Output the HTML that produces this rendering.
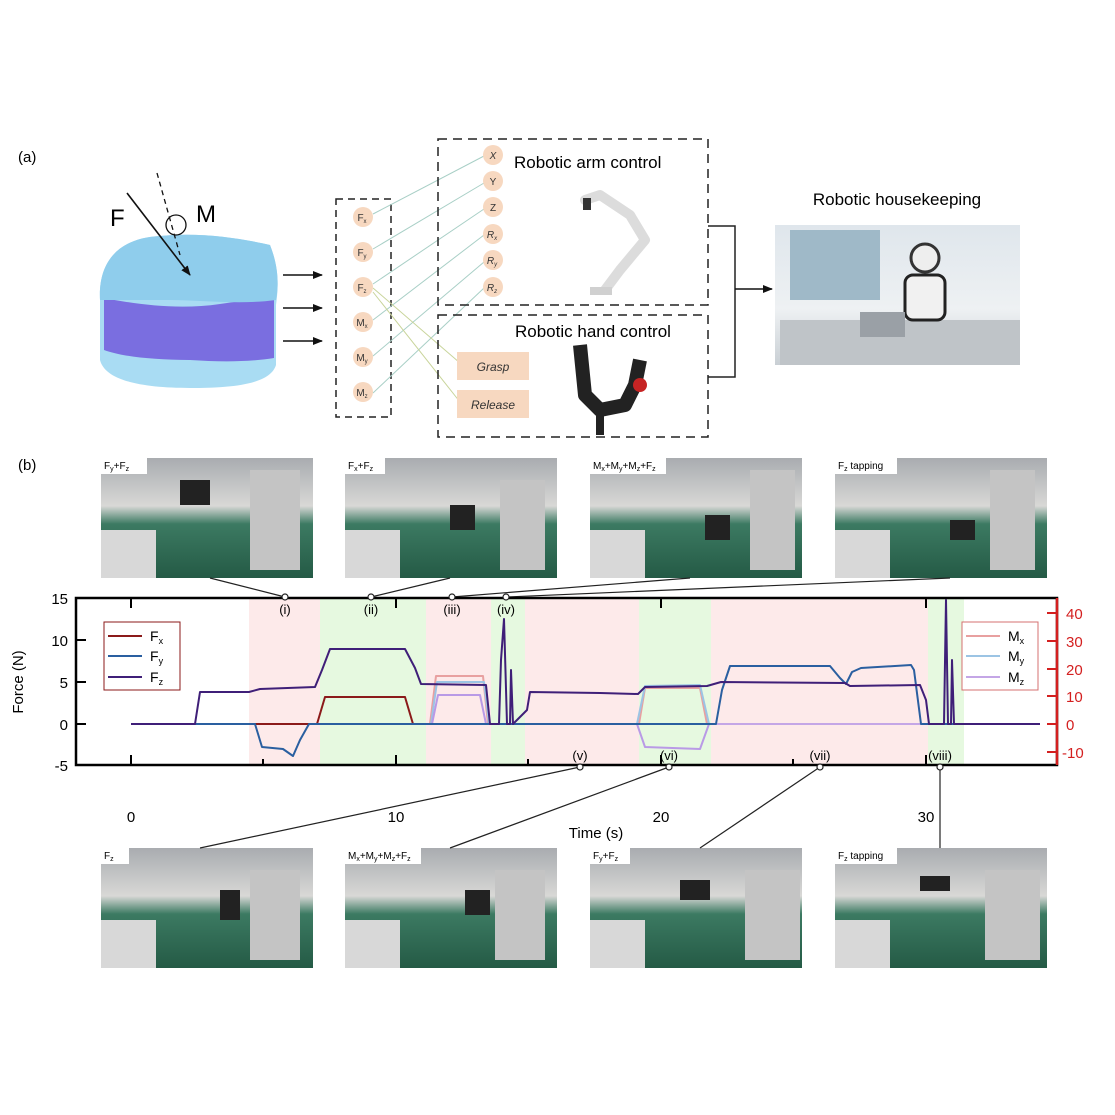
<!DOCTYPE html>
<html><head><meta charset="utf-8"><style>
html,body{margin:0;padding:0;background:#fff}
svg{display:block}
text{font-family:"Liberation Sans",Arial,sans-serif}
</style></head><body>
<svg width="1115" height="1115" viewBox="0 0 1115 1115" xmlns="http://www.w3.org/2000/svg">
<defs>
<marker id="ah" markerWidth="10" markerHeight="10" refX="9" refY="5" orient="auto" markerUnits="userSpaceOnUse"><path d="M0,1 L10,5 L0,9 z" fill="#111"/></marker>
<linearGradient id="room" x1="0" y1="0" x2="0" y2="1"><stop offset="0" stop-color="#a9acb0"/><stop offset="0.4" stop-color="#d8d8d6"/><stop offset="0.55" stop-color="#3c7a62"/><stop offset="1" stop-color="#245a45"/></linearGradient>
<linearGradient id="office" x1="0" y1="0" x2="0" y2="1"><stop offset="0" stop-color="#dfe6ec"/><stop offset="0.6" stop-color="#eef1f3"/><stop offset="1" stop-color="#c9cfd4"/></linearGradient>
</defs>
<rect width="1115" height="1115" fill="#fff"/>
<text x="18" y="162" font-size="15">(a)</text>
<text x="18" y="470" font-size="15">(b)</text>

<!-- pad -->
<path d="M100,300 C98,260 120,238 160,236 C200,232 240,238 270,245 C280,270 278,290 276,305 L276,365 C270,385 230,388 190,388 C140,388 105,380 100,360 Z" fill="#a9dcf3"/>
<path d="M104,298 C140,305 180,310 220,304 C250,300 268,296 274,296 L274,358 C250,362 220,362 190,360 C150,360 120,356 104,350 Z" fill="#7a6ee0"/>
<path d="M100,300 C98,260 120,238 160,236 C200,232 240,238 270,245 C280,270 278,290 276,300 C240,305 200,300 170,300 C130,300 110,300 100,300 Z" fill="#8fcdec"/>
<line x1="127" y1="193" x2="190" y2="275" stroke="#111" stroke-width="1.6" marker-end="url(#ah)"/>
<line x1="157" y1="173" x2="180" y2="255" stroke="#111" stroke-width="1.3" stroke-dasharray="5,4"/>
<ellipse cx="176" cy="225" rx="10" ry="10" fill="none" stroke="#111" stroke-width="1.3"/>
<text x="110" y="226" font-size="24">F</text>
<text x="196" y="222" font-size="24">M</text>
<line x1="283" y1="275" x2="322" y2="275" stroke="#111" stroke-width="1.6" marker-end="url(#ah)"/>
<line x1="283" y1="308" x2="322" y2="308" stroke="#111" stroke-width="1.6" marker-end="url(#ah)"/>
<line x1="283" y1="341" x2="322" y2="341" stroke="#111" stroke-width="1.6" marker-end="url(#ah)"/>

<!-- input box -->
<rect x="336" y="199" width="55" height="218" fill="none" stroke="#222" stroke-width="1.5" stroke-dasharray="7,5"/>
<g stroke="#a8cfc6" stroke-width="1">
<line x1="373" y1="214" x2="484" y2="156"/>
<line x1="373" y1="249" x2="484" y2="183"/>
<line x1="373" y1="284" x2="484" y2="209"/>
<line x1="373" y1="320" x2="484" y2="235"/>
<line x1="373" y1="356" x2="484" y2="262"/>
<line x1="373" y1="393" x2="484" y2="288"/>
</g>
<g stroke="#c8d49a" stroke-width="1"><line x1="373" y1="288" x2="460" y2="363"/><line x1="373" y1="292" x2="460" y2="402"/></g>
<g fill="#f7d8c0">
<circle cx="363" cy="217" r="10"/><circle cx="363" cy="252" r="10"/><circle cx="363" cy="287" r="10"/>
<circle cx="363" cy="322" r="10"/><circle cx="363" cy="357" r="10"/><circle cx="363" cy="392" r="10"/>
<circle cx="493" cy="155" r="10"/><circle cx="493" cy="181" r="10"/><circle cx="493" cy="207" r="10"/>
<circle cx="493" cy="234" r="10"/><circle cx="493" cy="260" r="10"/><circle cx="493" cy="287" r="10"/>
</g>
<g font-size="10" text-anchor="middle" fill="#333">
<text x="362" y="221">F<tspan font-size="6" dy="2">x</tspan></text>
<text x="362" y="256">F<tspan font-size="6" dy="2">y</tspan></text>
<text x="362" y="291">F<tspan font-size="6" dy="2">z</tspan></text>
<text x="362" y="326">M<tspan font-size="6" dy="2">x</tspan></text>
<text x="362" y="361">M<tspan font-size="6" dy="2">y</tspan></text>
<text x="362" y="396">M<tspan font-size="6" dy="2">z</tspan></text>
<text x="493" y="159" font-style="italic">X</text>
<text x="493" y="185">Y</text>
<text x="493" y="211">Z</text>
<text x="492" y="238" font-style="italic">R<tspan font-size="6" dy="2">x</tspan></text>
<text x="492" y="264" font-style="italic">R<tspan font-size="6" dy="2">y</tspan></text>
<text x="492" y="291" font-style="italic">R<tspan font-size="6" dy="2">z</tspan></text>
</g>
<rect x="438" y="139" width="270" height="166" fill="none" stroke="#222" stroke-width="1.5" stroke-dasharray="9,6"/>
<rect x="438" y="315" width="270" height="122" fill="none" stroke="#222" stroke-width="1.5" stroke-dasharray="9,6"/>
<text x="514" y="168" font-size="17">Robotic arm control</text>
<text x="515" y="337" font-size="17">Robotic hand control</text>
<rect x="457" y="352" width="72" height="28" fill="#f7d8c0"/>
<rect x="457" y="390" width="72" height="28" fill="#f7d8c0"/>
<text x="493" y="371" font-size="12" font-style="italic" text-anchor="middle" fill="#333">Grasp</text>
<text x="493" y="409" font-size="12" font-style="italic" text-anchor="middle" fill="#333">Release</text>
<!-- arm -->
<path d="M585,200 L600,195 L630,215 L645,240 L620,270 L605,290" fill="none" stroke="#dcdcdc" stroke-width="10" stroke-linecap="round" stroke-linejoin="round"/>
<rect x="583" y="198" width="8" height="12" fill="#333"/>
<rect x="590" y="287" width="22" height="8" fill="#d0d0d0"/>
<!-- hand -->
<path d="M580,345 L585,395 L600,410 L625,405 L635,385 L640,360" fill="none" stroke="#222" stroke-width="14" stroke-linejoin="round"/>
<rect x="596" y="405" width="8" height="30" fill="#222"/>
<circle cx="640" cy="385" r="7" fill="#c62424"/>
<!-- bracket -->
<path d="M708,226 H735 V377 H708" fill="none" stroke="#222" stroke-width="1.5"/>
<line x1="735" y1="289" x2="772" y2="289" stroke="#111" stroke-width="1.6" marker-end="url(#ah)"/>
<text x="897" y="205" font-size="17" text-anchor="middle">Robotic housekeeping</text>
<rect x="775" y="225" width="245" height="140" fill="url(#office)"/>
<rect x="790" y="230" width="90" height="70" fill="#9fb9c8"/>
<rect x="780" y="320" width="240" height="45" fill="#bfc4c8"/>
<circle cx="925" cy="258" r="14" fill="#eee" stroke="#333" stroke-width="3"/>
<rect x="905" y="275" width="40" height="45" rx="8" fill="#f1f1f1" stroke="#222" stroke-width="3"/>
<rect x="860" y="312" width="45" height="25" fill="#9aa0a6"/>

<!-- photos -->
<g>
<rect x="101" y="458" width="212" height="120" fill="url(#room)"/>
<rect x="345" y="458" width="212" height="120" fill="url(#room)"/>
<rect x="590" y="458" width="212" height="120" fill="url(#room)"/>
<rect x="835" y="458" width="212" height="120" fill="url(#room)"/>
<rect x="101" y="848" width="212" height="120" fill="url(#room)"/>
<rect x="345" y="848" width="212" height="120" fill="url(#room)"/>
<rect x="590" y="848" width="212" height="120" fill="url(#room)"/>
<rect x="835" y="848" width="212" height="120" fill="url(#room)"/>
<g fill="#d8d8d8">
<rect x="101" y="530" width="55" height="48"/><rect x="345" y="530" width="55" height="48"/><rect x="590" y="530" width="55" height="48"/><rect x="835" y="530" width="55" height="48"/>
<rect x="101" y="920" width="55" height="48"/><rect x="345" y="920" width="55" height="48"/><rect x="590" y="920" width="55" height="48"/><rect x="835" y="920" width="55" height="48"/>
</g>
<g fill="#c4c4c4"><rect x="250" y="470" width="50" height="100"/><rect x="500" y="480" width="45" height="90"/><rect x="750" y="470" width="45" height="100"/><rect x="990" y="470" width="45" height="100"/>
<rect x="250" y="870" width="50" height="90"/><rect x="495" y="870" width="50" height="90"/><rect x="745" y="870" width="55" height="90"/><rect x="985" y="870" width="55" height="90"/></g>
<g fill="#222"><rect x="180" y="480" width="30" height="25"/><rect x="450" y="505" width="25" height="25"/><rect x="705" y="515" width="25" height="25"/><rect x="950" y="520" width="25" height="20"/>
<rect x="220" y="890" width="20" height="30"/><rect x="465" y="890" width="25" height="25"/><rect x="680" y="880" width="30" height="20"/><rect x="920" y="876" width="30" height="15"/></g>
<g fill="#fff">
<rect x="101" y="458" width="46" height="16"/><rect x="345" y="458" width="40" height="16"/><rect x="590" y="458" width="76" height="16"/><rect x="835" y="458" width="62" height="16"/>
<rect x="101" y="848" width="28" height="16"/><rect x="345" y="848" width="76" height="16"/><rect x="590" y="848" width="40" height="16"/><rect x="835" y="848" width="62" height="16"/>
</g>
<g font-size="10">
<text x="104" y="469">F<tspan font-size="7" dy="2">y</tspan><tspan dy="-2">+F</tspan><tspan font-size="7" dy="2">z</tspan></text>
<text x="348" y="469">F<tspan font-size="7" dy="2">x</tspan><tspan dy="-2">+F</tspan><tspan font-size="7" dy="2">z</tspan></text>
<text x="593" y="469">M<tspan font-size="7" dy="2">x</tspan><tspan dy="-2">+M</tspan><tspan font-size="7" dy="2">y</tspan><tspan dy="-2">+M</tspan><tspan font-size="7" dy="2">z</tspan><tspan dy="-2">+F</tspan><tspan font-size="7" dy="2">z</tspan></text>
<text x="838" y="469">F<tspan font-size="7" dy="2">z</tspan><tspan dy="-2"> tapping</tspan></text>
<text x="104" y="859">F<tspan font-size="7" dy="2">z</tspan></text>
<text x="348" y="859">M<tspan font-size="7" dy="2">x</tspan><tspan dy="-2">+M</tspan><tspan font-size="7" dy="2">y</tspan><tspan dy="-2">+M</tspan><tspan font-size="7" dy="2">z</tspan><tspan dy="-2">+F</tspan><tspan font-size="7" dy="2">z</tspan></text>
<text x="593" y="859">F<tspan font-size="7" dy="2">y</tspan><tspan dy="-2">+F</tspan><tspan font-size="7" dy="2">z</tspan></text>
<text x="838" y="859">F<tspan font-size="7" dy="2">z</tspan><tspan dy="-2"> tapping</tspan></text>
</g>
</g>

<!-- chart shading -->
<g>
<rect x="249" y="598" width="71" height="167" fill="#fdeaea"/>
<rect x="320" y="598" width="106" height="167" fill="#e6f9e0"/>
<rect x="426" y="598" width="65" height="167" fill="#fdeaea"/>
<rect x="491" y="598" width="34" height="167" fill="#e6f9e0"/>
<rect x="525" y="598" width="114" height="167" fill="#fdeaea"/>
<rect x="639" y="598" width="72" height="167" fill="#e6f9e0"/>
<rect x="711" y="598" width="217" height="167" fill="#fdeaea"/>
<rect x="928" y="598" width="36" height="167" fill="#e6f9e0"/>
</g>
<!-- connectors -->
<g stroke="#222" stroke-width="1.2" fill="none">
<line x1="210" y1="578" x2="285" y2="597"/>
<line x1="450" y1="578" x2="371" y2="597"/>
<line x1="690" y1="578" x2="452" y2="597"/>
<line x1="950" y1="578" x2="506" y2="597"/>
<line x1="200" y1="848" x2="580" y2="767"/>
<line x1="450" y1="848" x2="669" y2="767"/>
<line x1="700" y1="848" x2="820" y2="767"/>
<line x1="940" y1="848" x2="940" y2="767"/>
</g>
<!-- curves -->
<g fill="none" stroke-width="2" stroke-linejoin="round">
<polyline stroke="#c4a6e6" points="131,724 1040,724"/>
<polyline stroke="#e8a0a0" points="430,724 436,676 483,676 488,724"/>
<polyline stroke="#9cc4e4" points="431,724 437,682 484,682 489,724"/>
<polyline stroke="#b99ae6" points="432,724 438,695 480,695 486,724"/>
<polyline stroke="#e8a0a0" points="639,724 645,688 700,688 707,724"/>
<polyline stroke="#9cc4e4" points="637,724 645,686 700,685 709,724"/>
<polyline stroke="#b99ae6" points="637,724 645,747 700,749 709,724"/>
<polyline stroke="#8b1a1a" points="131,724 317,724 325,697 405,697 413,724"/>
<polyline stroke="#2a5fa0" points="131,724 255,724 262,747 283,749 293,756 300,740 309,724 711,724 716,724 722,690 730,666 830,666 840,678 846,684 852,672 861,668 911,665 914,670 921,724 1040,724"/>
<polyline stroke="#3f1f78" points="131,724 195,724 200,692 249,692 260,689 315,687 322,670 330,649 405,649 415,668 421,684 486,685 490,724 499,724 501,660 504,619 507,724 510,724 511,670 513,724 527,710 530,692 600,693 638,694 645,687 707,686 721,682 845,683 850,686 920,685 926,700 929,724 944,724 946,600 948,724 951,724 952,660 954,724 1040,724"/>
</g>
<!-- frame -->
<rect x="76" y="598" width="981" height="167" fill="none" stroke="#000" stroke-width="2.5"/>
<line x1="1057" y1="598" x2="1057" y2="765" stroke="#d42020" stroke-width="2.5"/>
<g stroke="#000" stroke-width="2">
<line x1="131" y1="765" x2="131" y2="755"/><line x1="263" y1="765" x2="263" y2="759"/><line x1="396" y1="765" x2="396" y2="755"/><line x1="528" y1="765" x2="528" y2="759"/><line x1="661" y1="765" x2="661" y2="755"/><line x1="793" y1="765" x2="793" y2="759"/><line x1="926" y1="765" x2="926" y2="755"/>
<line x1="131" y1="598" x2="131" y2="608"/><line x1="396" y1="598" x2="396" y2="608"/><line x1="661" y1="598" x2="661" y2="608"/><line x1="926" y1="598" x2="926" y2="608"/>
<line x1="76" y1="682" x2="86" y2="682"/><line x1="76" y1="640" x2="86" y2="640"/><line x1="76" y1="724" x2="86" y2="724"/>
</g>
<g stroke="#d42020" stroke-width="2">
<line x1="1047" y1="613" x2="1057" y2="613"/><line x1="1047" y1="641" x2="1057" y2="641"/><line x1="1047" y1="669" x2="1057" y2="669"/><line x1="1047" y1="696" x2="1057" y2="696"/><line x1="1047" y1="724" x2="1057" y2="724"/><line x1="1047" y1="752" x2="1057" y2="752"/>
</g>
<g font-size="15" text-anchor="end">
<text x="68" y="604">15</text><text x="68" y="646">10</text><text x="68" y="688">5</text><text x="68" y="730">0</text><text x="68" y="771">-5</text>
</g>
<g font-size="15" fill="#d42020">
<text x="1066" y="619">40</text><text x="1066" y="647">30</text><text x="1066" y="675">20</text><text x="1066" y="702">10</text><text x="1066" y="730">0</text><text x="1062" y="758">-10</text>
</g>
<g font-size="15" text-anchor="middle">
<text x="131" y="822">0</text><text x="396" y="822">10</text><text x="661" y="822">20</text><text x="926" y="822">30</text>
<text x="596" y="838">Time (s)</text>
</g>
<text x="0" y="0" font-size="15" text-anchor="middle" transform="translate(23,682) rotate(-90)">Force (N)</text>
<g font-size="13" text-anchor="middle">
<text x="285" y="614">(i)</text><text x="371" y="614">(ii)</text><text x="452" y="614">(iii)</text><text x="506" y="614">(iv)</text>
<text x="580" y="760">(v)</text><text x="669" y="760">(vi)</text><text x="820" y="760">(vii)</text><text x="940" y="760">(viii)</text>
</g>
<g fill="#fff" stroke="#222" stroke-width="1.2">
<circle cx="285" cy="597" r="3"/><circle cx="371" cy="597" r="3"/><circle cx="452" cy="597" r="3"/><circle cx="506" cy="597" r="3"/>
<circle cx="580" cy="767" r="3"/><circle cx="669" cy="767" r="3"/><circle cx="820" cy="767" r="3"/><circle cx="940" cy="767" r="3"/>
</g>
<!-- legends -->
<rect x="104" y="622" width="76" height="68" fill="#fff" stroke="#8b1a1a" stroke-width="1"/>
<g stroke-width="2"><line x1="108" y1="636" x2="142" y2="636" stroke="#8b1a1a"/><line x1="108" y1="656" x2="142" y2="656" stroke="#2a5fa0"/><line x1="108" y1="677" x2="142" y2="677" stroke="#3f1f78"/></g>
<g font-size="14"><text x="150" y="641">F<tspan font-size="9" dy="3">x</tspan></text><text x="150" y="661">F<tspan font-size="9" dy="3">y</tspan></text><text x="150" y="682">F<tspan font-size="9" dy="3">z</tspan></text></g>
<rect x="962" y="622" width="76" height="68" fill="#fff" stroke="#d47070" stroke-width="1"/>
<g stroke-width="2"><line x1="966" y1="636" x2="1000" y2="636" stroke="#e8a0a0"/><line x1="966" y1="656" x2="1000" y2="656" stroke="#9cc4e4"/><line x1="966" y1="677" x2="1000" y2="677" stroke="#c4a6e6"/></g>
<g font-size="14"><text x="1008" y="641">M<tspan font-size="9" dy="3">x</tspan></text><text x="1008" y="661">M<tspan font-size="9" dy="3">y</tspan></text><text x="1008" y="682">M<tspan font-size="9" dy="3">z</tspan></text></g>
</svg>
</body></html>
